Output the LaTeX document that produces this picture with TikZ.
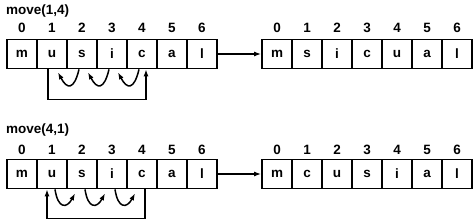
\documentclass[tikz,border=0pt]{standalone}
\usepackage{fontspec}
\setmainfont{Liberation Sans}
\usetikzlibrary{arrows.meta, positioning}

\tikzset{
    cell/.style={draw, line width=1.7pt, minimum width=30pt, minimum height=29pt,
                 inner sep=0pt, font=\fontsize{13.5}{15}\selectfont\bfseries},
    idx/.style={inner sep=0pt, font=\fontsize{13.5}{15}\selectfont\bfseries},
    lbl/.style={inner sep=0pt, anchor=west, font=\fontsize{13.5}{15}\selectfont\bfseries},
    link/.style={line width=1.5pt, -{Latex[length=7pt,width=5pt]}},
}

\begin{document}
\begin{tikzpicture}[x=1pt, y=-1pt]
    \useasboundingbox (0,0) rectangle (473,222);

    % move(1,4)
    \node[lbl] (mv14) at (6,11) {move(1,4)};
    \foreach \ch [count=\i from 0] in {m,u,s,i,c,a,l} {
        \node[cell] (a\i) at (22+30*\i,54) {\ch};
        \node[idx] (ia\i) at (22+30*\i,28) {\i};
    }
    \foreach \ch [count=\i from 0] in {m,s,i,c,u,a,l} {
        \node[cell] (b\i) at (277+30*\i,54) {\ch};
        \node[idx] (ib\i) at (277+30*\i,28) {\i};
    }
    \draw[link] (a6) -- (b0);
    \draw[link] ([xshift=-4pt]a1.south) -- ++(0,30) -| ([xshift=4pt]a4.south);
    \foreach \k in {2,3,4} {
        \pgfmathtruncatemacro\j{\k-1}
        \draw[link] ([xshift=-3pt]a\k.south)
            .. controls +(-5,21) and +(9,17) .. ([xshift=6pt,yshift=-3pt]a\j.south);
    }

    % move(4,1)
    \node[lbl] (mv41) at (6,130) {move(4,1)};
    \foreach \ch [count=\i from 0] in {m,u,s,i,c,a,l} {
        \node[cell] (c\i) at (22+30*\i,174) {\ch};
        \node[idx] (ic\i) at (22+30*\i,150) {\i};
    }
    \foreach \ch [count=\i from 0] in {m,c,u,s,i,a,l} {
        \node[cell] (d\i) at (277+30*\i,174) {\ch};
        \node[idx] (id\i) at (277+30*\i,150) {\i};
    }
    \draw[link] (c6) -- (d0);
    \draw[link] ([xshift=3pt]c4.south) -- ++(0,29) -| ([xshift=-5pt]c1.south);
    \foreach \k in {1,2,3} {
        \pgfmathtruncatemacro\j{\k+1}
        \draw[link] ([xshift=3pt]c\k.south)
            .. controls +(3,20) and +(-8,15) .. ([xshift=-7pt,yshift=-4pt]c\j.south);
    }
\end{tikzpicture}
\end{document}
